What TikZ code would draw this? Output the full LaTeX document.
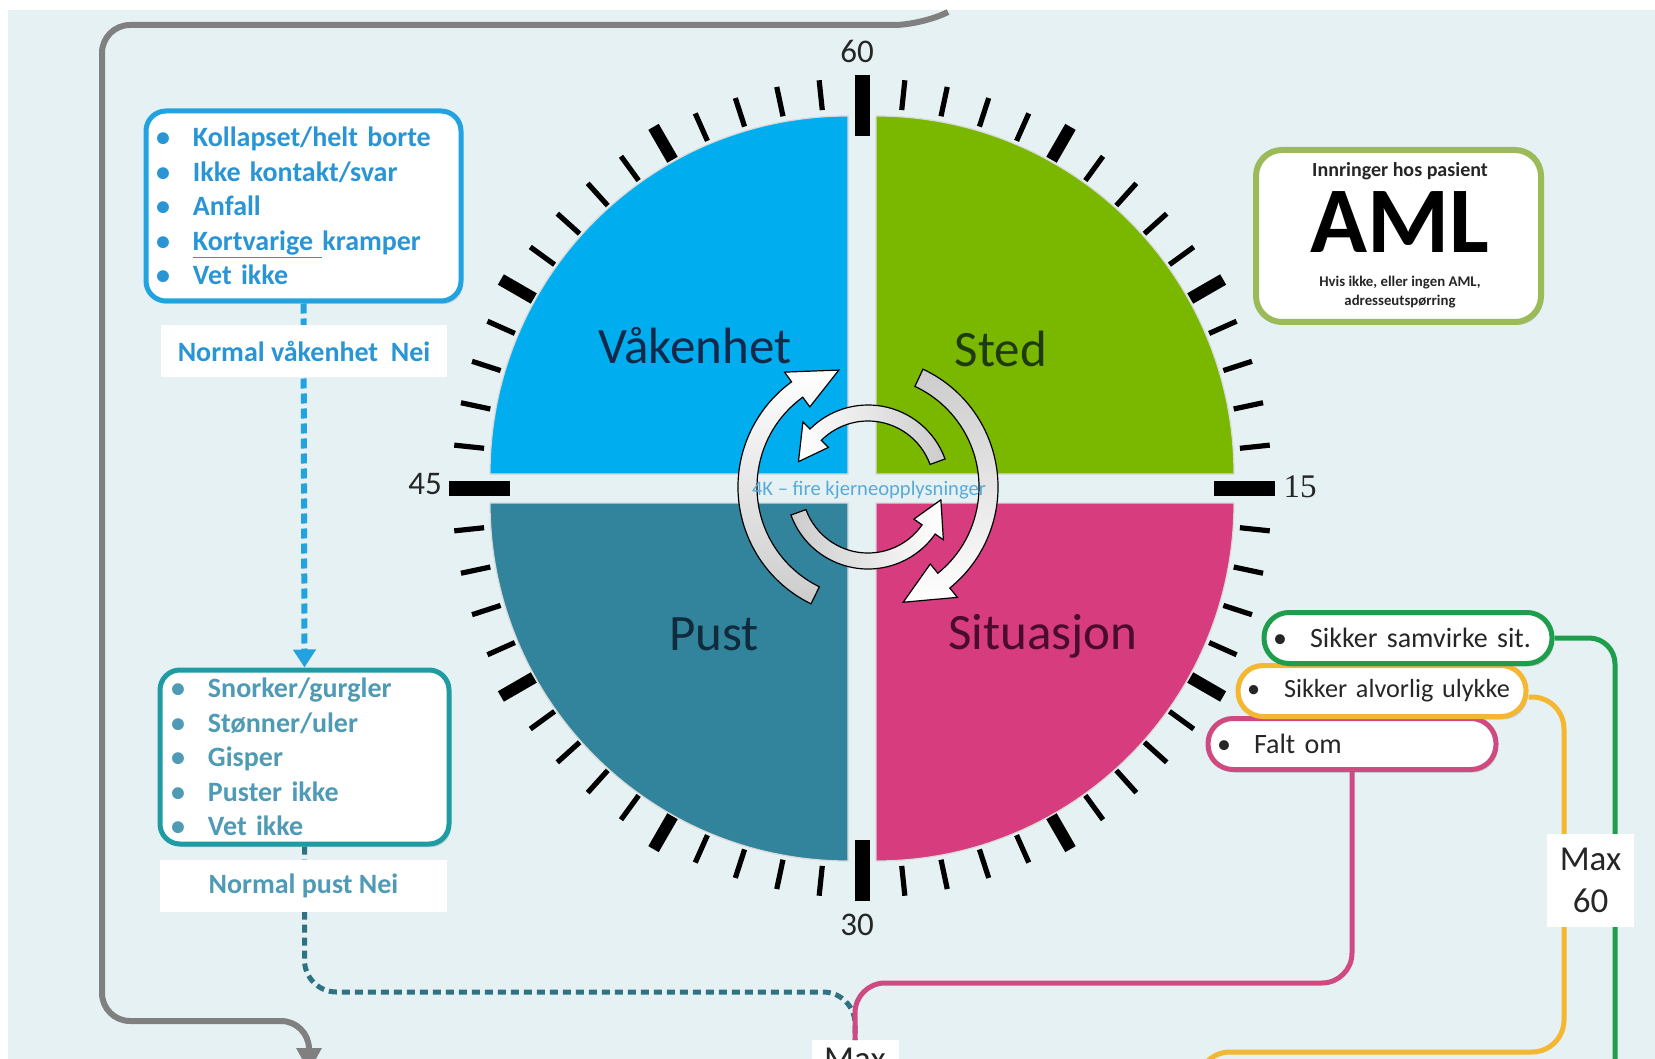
\documentclass[tikz,border=0pt]{standalone}
\usepackage{fontspec}
\setmainfont{Carlito}
\newfontfamily\timesnum{Liberation Serif}
\usepackage{xcolor}
\usepackage{tikz}
\usetikzlibrary{shadows,arrows.meta}
\definecolor{bgpanel}{HTML}{E6F1F4}
\definecolor{qblue}{HTML}{00AEEF}
\definecolor{qgreen}{HTML}{7AB800}
\definecolor{qteal}{HTML}{31849B}
\definecolor{qpink}{HTML}{D63C7E}
\definecolor{boxblue}{HTML}{22A3E0}
\definecolor{txtblue}{HTML}{2A95D4}
\definecolor{boxteal}{HTML}{1F9CA3}
\definecolor{txtteal}{HTML}{4F9AB4}
\definecolor{amlgreen}{HTML}{9BBB59}
\definecolor{lnggreen}{HTML}{1E9E4D}
\definecolor{lngorange}{HTML}{F4B731}
\definecolor{lngpink}{HTML}{D04A82}
\definecolor{dashteal}{HTML}{2F7383}
\definecolor{kkblue}{HTML}{5AAAD8}
\definecolor{vaaktxt}{HTML}{12294A}
\definecolor{stedtxt}{HTML}{1F3A0E}
\definecolor{pusttxt}{HTML}{0F2B3C}
\definecolor{sittxt}{HTML}{4A0C2C}
\def\itm#1{\makebox[16pt][l]{\hspace{-2.5pt}\textbullet}#1}
% tail, neck, tip angle, inner r, outer r, head overhang
\def\cycarrow#1#2#3#4#5#6#7{\path[cycarr,#1] (#2:#6) arc[start angle=#2, end angle=#3, radius=#6] -- (#3:{#6+#7}) -- (#4:{(#5+#6)/2}) -- (#3:{#5-#7}) -- (#3:#5) arc[start angle=#3, end angle=#2, radius=#5] -- cycle}
\tikzstyle{listbox}=[line width=2.5pt,rounded corners=10pt,fill=white,align=left,drop shadow={opacity=0.3,shadow xshift=1pt,shadow yshift=-1.5pt},font=\fontsize{14}{17.3}\selectfont\bfseries]
\tikzstyle{nolabel}=[fill=white,minimum height=26pt,font=\fontsize{14}{16}\selectfont\bfseries]
\tikzstyle{pill}=[line width=2.5pt,rounded corners=12.5pt,fill=white,minimum height=25.5pt,text width=130pt,inner xsep=7pt,align=left,font=\fontsize{14}{16}\selectfont,text=black!85,drop shadow={opacity=0.3,shadow xshift=1pt,shadow yshift=-1.5pt}]
\tikzstyle{maxbox}=[fill=white,minimum width=43.5pt,minimum height=46.5pt,align=center,font=\fontsize{17.5}{21}\selectfont,text=black!85]
\tikzstyle{amlbox}=[draw=amlgreen,line width=3pt,rounded corners=13pt,fill=white,minimum width=142.5pt,minimum height=86pt,drop shadow={opacity=0.3,shadow xshift=1pt,shadow yshift=-1.5pt}]
\tikzstyle{quadlbl}=[anchor=base,font=\fontsize{25.5}{28}\selectfont]
\tikzstyle{ticklbl}=[font=\fontsize{16.5}{18}\selectfont,text=black!85]
\tikzstyle{tickmaj}=[line width=7.5pt]
\tikzstyle{tickfive}=[line width=6pt]
\tikzstyle{tickmin}=[line width=2.6pt]
\tikzstyle{cycarr}=[draw=black,line width=0.6pt]
\tikzstyle{grayline}=[draw=gray,line width=3pt,-{Triangle[width=12pt,length=12pt]}]
\tikzstyle{bluedash}=[draw=boxblue,line width=3pt,dash pattern=on 5pt off 2.5pt,-{Triangle[width=11pt,length=9pt]}]
\tikzstyle{tealdash}=[draw=dashteal,line width=2.5pt,dash pattern=on 4pt off 2.5pt]
\tikzstyle{lnk}=[line width=2.5pt]

\begin{document}
\begin{tikzpicture}[x=0.5pt,y=-0.5pt]
    \useasboundingbox (0,0) rectangle (1655,1059);
    \clip (0,0) rectangle (1655,1059);
    \fill[white] (0,0) rectangle (1655,1059);
    \fill[bgpanel] (8,10) rectangle (1655,1059);

    % outer gray return line
    \coordinate (grtop) at (948,12);
    \coordinate (grend) at (309,1072);
    \draw[grayline, rounded corners=14pt] (grtop) -- (922,25) -| (102,1021) -| (grend);

    % clock quadrants
    \path[fill=qblue, draw=gray!30, line width=0.6pt] (848,474) -- ++(-358,0) arc[start angle=180, end angle=270, radius=358] -- cycle;
    \path[fill=qgreen, draw=gray!30, line width=0.6pt] (876,474) -- ++(0,-358) arc[start angle=270, end angle=360, radius=358] -- cycle;
    \path[fill=qteal, draw=gray!30, line width=0.6pt] (848,503) -- ++(0,358) arc[start angle=90, end angle=180, radius=358] -- cycle;
    \path[fill=qpink, draw=gray!30, line width=0.6pt] (876,503) -- ++(358,0) arc[start angle=0, end angle=90, radius=358] -- cycle;

    % ticks
    \begin{scope}[shift={(862,488)}]
      \foreach \i in {0,...,59}{
        \pgfmathtruncatemacro\qq{mod(\i,15)}
        \pgfmathtruncatemacro\ff{mod(\i,5)}
        \pgfmathsetmacro\aa{6*\i}
        \ifnum\qq=0 \draw[tickmaj] (\aa:352) -- (\aa:413);
        \else\ifnum\ff=0 \draw[tickfive] (\aa:379) -- (\aa:417);
        \else \draw[tickmin] (\aa:380) -- (\aa:410);
        \fi\fi
      }
    \end{scope}
    \node[ticklbl] (t60) at (857,51) {60};
    \node[ticklbl] (t15) at (1300,487) {\timesnum 15};
    \node[ticklbl] (t45) at (425,484) {45};
    \node[ticklbl] (t30) at (857,925) {30};

    % cycle arrows
    \begin{scope}[shift={(868,487)}]
      \cycarrow{top color=white,bottom color=gray!40}{116}{234}{256}{111}{130}{12};
      \cycarrow{top color=gray!40,bottom color=white}{-65}{51}{73}{111}{130}{12};
      \cycarrow{left color=white,right color=gray!40}{-20}{-135}{-160}{66}{82}{10};
      \cycarrow{left color=gray!40,right color=white}{160}{35}{10}{66}{82}{10};
    \end{scope}
    \node[font=\fontsize{10.3}{12}\selectfont, text=kkblue] (kk) at (869,490) {4K – fire kjerneopplysninger};

    \node[quadlbl, text=vaaktxt] (lvaak) at (695,364) {Våkenhet};
    \node[quadlbl, text=stedtxt] (lsted) at (1001,366) {Sted};
    \node[quadlbl, text=pusttxt] (lpust) at (714,650) {Pust};
    \node[quadlbl, text=sittxt] (lsit) at (1043,649) {Situasjon};

    % left column
    \node[listbox, draw=boxblue, text=txtblue, text width=142.5pt, inner xsep=7.5pt, minimum height=95pt] (vaakbox) at (303.5,206)
      {\itm{Kollapset/helt borte}\\\itm{Ikke kontakt/svar}\\\itm{Anfall}\\\itm{\underline{Kortvarige\ }kramper}\\\itm{Vet ikke}};
    \node[listbox, draw=boxteal, text=txtteal, text width=128.5pt, inner xsep=8pt, minimum height=87pt] (pustbox) at (304.5,757)
      {\itm{Snorker/gurgler}\\\itm{Stønner/uler}\\\itm{Gisper}\\\itm{Puster ikke}\\\itm{Vet ikke}};
    \node[maxbox, anchor=north] (maxb) at (855,1040) {Max\\\strut};
    \draw[bluedash] (vaakbox.south) -- (pustbox.north);
    \draw[tealdash, rounded corners=16pt] (pustbox.south) |- (maxb.north |- 0,992) -- (maxb.north);
    \node[nolabel, text=txtblue, minimum width=143pt] (vaaklbl) at (304,351) {Normal våkenhet\ \ Nei};
    \node[nolabel, text=txtteal, minimum width=143.5pt] (pustlbl) at (303.5,885.5) {Normal pust Nei};

    % AML
    \node[amlbox] (aml) at (1398.5,236) {};
    \node[font=\fontsize{10}{12}\selectfont\bfseries, text=black!85] (amltop) at (1400,171) {Innringer hos pasient};
    \node[font=\fontsize{47}{50}\selectfont\bfseries] (amlbig) at (1400,222) {AML};
    \node[font=\fontsize{7.4}{9.5}\selectfont\bfseries, align=center, text=black!85] (amlsub) at (1400,292) {Hvis ikke, eller ingen AML,\\adresseutspørring};

    % situation boxes
    \node[pill, draw=lngpink] (faltom) at (1352,744) {\itm{Falt om}};
    \node[pill, draw=lngorange, font=\fontsize{13.1}{16}\selectfont] (ulykke) at (1382,691) {\itm{Sikker alvorlig ulykke}};
    \node[pill, draw=lnggreen] (samvirke) at (1408,638) {\itm{Sikker samvirke sit.}};
    \coordinate (grnend) at (1615,1075);
    \coordinate (orgend) at (1198,1075);
    \draw[lnk, lnggreen, rounded corners=13pt] (samvirke.east) -| (grnend);
    \draw[lnk, lngorange, rounded corners=16pt] ([yshift=-3pt]ulykke.east) -| (1564,1052) -| (orgend);
    \draw[lnk, lngpink, rounded corners=15pt] (faltom.south) |- (maxb.north |- 0,983) -- (maxb.north);
    \node[maxbox] (max60) at (1590.5,880.5) {Max\\60};
\end{tikzpicture}
\end{document}
